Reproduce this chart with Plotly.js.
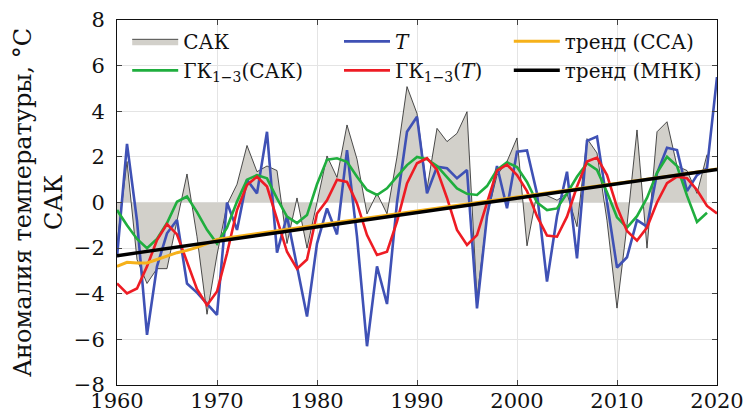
<!DOCTYPE html>
<html>
<head>
<meta charset="utf-8">
<script src="https://cdn.plot.ly/plotly-3.0.1.min.js"></script>
<style>html,body{margin:0;padding:0;background:#fff;}#chart{width:743px;height:416px;}</style>
</head>
<body>
<div id="chart"></div>
<script>
// Years
const yearsT = [1960,1961,1962,1963,1964,1965,1966,1967,1968,1969,1970,1971,1972,1973,1974,1975,1976,1977,1978,1979,1980,1981,1982,1983,1984,1985,1986,1987,1988,1989,1990,1991,1992,1993,1994,1995,1996,1997,1998,1999,2000,2001,2002,2003,2004,2005,2006,2007,2008,2009,2010,2011,2012,2013,2014,2015,2016,2017,2018,2019,2020];
const yearsSAK = yearsT.slice(0, 60);

// Temperature anomaly T
const tempT = [-2.4,2.57,-0.8,-5.8,-2.8,-1.35,-0.77,-3.55,-3.95,-4.45,-4.93,0.0,-1.2,1.0,0.4,3.1,-2.2,-0.6,-2.8,-5.0,-1.8,-0.26,-1.4,2.3,-1.5,-6.3,-2.8,-4.45,0.0,3.1,3.76,0.4,1.57,1.5,1.06,1.42,-4.64,-0.6,1.6,-0.25,2.23,2.28,0.4,-3.47,-0.6,1.35,-2.45,2.7,2.89,0.1,-2.85,-2.4,-0.77,-1.06,1.28,2.4,2.3,0.5,1.2,1.5,5.5];

// САК series
const sak = [-1.8,1.8,-2.5,-3.55,-2.9,-2.9,-0.8,1.25,-1.5,-4.9,-2.3,-0.1,0.8,2.5,1.35,1.6,1.4,-1.8,0.2,-2.0,0.0,2.04,1.1,3.4,1.9,-0.5,0.4,-0.5,2.0,5.08,3.9,0.6,3.25,2.67,3.03,3.98,-4.2,-0.6,1.2,1.8,2.83,-1.9,0.4,0.3,0.1,0.4,-1.06,2.8,2.17,-0.8,-4.63,-1.0,3.18,-2.0,3.1,3.54,1.6,1.4,0.4,2.1];

// ГК1-3(САК)
const gkSAK = [-0.33,-1.0,-1.6,-2.0,-1.6,-0.9,0.03,0.26,-0.42,-1.2,-1.8,-1.1,0.04,1.0,1.2,1.06,0.18,-0.62,-0.9,-0.55,0.8,1.88,1.94,1.78,1.13,0.55,0.33,0.62,1.13,1.64,2.0,1.9,1.6,1.1,0.62,0.38,0.33,0.72,1.43,1.76,1.55,0.9,0.0,-0.33,-0.26,0.4,1.13,1.72,1.43,0.45,-0.65,-1.1,-0.6,0.2,1.3,2.0,1.6,0.3,-0.85,-0.45];

// ГК1-3(T)
const gkT = [-3.55,-3.99,-3.77,-2.8,-1.65,-0.95,-1.4,-2.6,-3.8,-4.5,-3.9,-2.23,-0.33,0.77,1.13,0.7,-0.77,-2.16,-2.9,-2.5,-0.48,0.1,1.0,0.9,-0.04,-1.43,-2.3,-2.16,-0.84,0.84,1.72,1.94,1.43,0.2,-1.2,-1.86,-1.43,0.0,1.4,1.66,1.2,0.5,-0.6,-1.45,-1.5,-0.62,0.7,1.8,1.97,1.2,-0.2,-1.25,-1.67,-1.1,0.0,0.85,1.13,1.06,0.55,-0.15,-0.48];

// тренд (ССА)
const ssaYears = [1960,1961,1962,1963,1964,1965,1966,1967,1968,1969,1970,1975,1980,1985,1990,1995,2000,2005,2010,2015,2020];
const ssaTrend = [-2.8,-2.62,-2.65,-2.65,-2.5,-2.35,-2.2,-2.1,-1.97,-1.8,-1.62,-1.3,-0.98,-0.68,-0.37,-0.06,0.24,0.53,0.83,1.14,1.47];

// тренд (МНК)
const mnkYears = [1960, 2020];
const mnkTrend = [-2.33, 1.45];

const xTicks = [1960,1970,1980,1990,2000,2010,2020];

const FONT = 'DejaVu Serif';

const traces = [
  {x: yearsSAK, y: sak, name: 'САК', type: 'scatter', mode: 'lines', fill: 'tozeroy',
   fillcolor: '#d2d0ca', line: {color: '#222', width: 0.8}, legend: 'legend'},
  {x: yearsT, y: tempT, name: '<i>T</i>', type: 'scatter', mode: 'lines',
   line: {color: '#3f51b5', width: 2.6}, legend: 'legend2'},
  {x: yearsSAK, y: gkSAK, name: 'ГК<sub>1−3</sub>(САК)', type: 'scatter', mode: 'lines',
   line: {color: '#1fae3e', width: 2.6}, legend: 'legend'},
  {x: yearsT, y: gkT, name: 'ГК<sub>1−3</sub>(<i>T</i>)', type: 'scatter', mode: 'lines',
   line: {color: '#ee1c24', width: 2.6}, legend: 'legend2'},
  {x: ssaYears, y: ssaTrend, name: 'тренд (ССА)', type: 'scatter', mode: 'lines',
   line: {color: '#f6b11a', width: 3}, legend: 'legend3'},
  {x: mnkYears, y: mnkTrend, name: 'тренд (МНК)', type: 'scatter', mode: 'lines',
   line: {color: '#000', width: 3.5}, legend: 'legend3'}
];

const legBase = {yanchor: 'top', xanchor: 'left', y: 0.995, bgcolor: 'rgba(0,0,0,0)',
  font: {family: FONT, size: 20, color: '#111'}, tracegroupgap: 0, orientation: 'v', itemwidth: 46};

const layout = {
  width: 743, height: 416,
  margin: {l: 117, r: 26, t: 20, b: 31},
  paper_bgcolor: '#fff', plot_bgcolor: '#fff',
  font: {family: FONT, color: '#111'},
  showlegend: true,
  xaxis: {range: [1960, 2020], tickvals: xTicks, ticks: 'inside', ticklen: 5,
    mirror: 'ticks', showline: true, linecolor: '#111', linewidth: 1,
    showgrid: true, gridcolor: '#e4e4e4', zeroline: false, ticklabeloverflow: 'allow',
    ticklabelstandoff: -3,
    tickfont: {family: FONT, size: 21, color: '#111'}, automargin: false},
  yaxis: {range: [-8, 8], dtick: 2, tick0: 0, ticks: 'inside', ticklen: 5,
    mirror: 'ticks', showline: true, linecolor: '#111', linewidth: 1,
    showgrid: true, gridcolor: '#e4e4e4', zeroline: false, ticklabelstandoff: 7,
    tickfont: {family: FONT, size: 21, color: '#111'}, automargin: false,
    title: {text: 'Аномалия температуры, °С<br>САК', font: {family: FONT, size: 24, color: '#111'}, standoff: 4}},
  legend: Object.assign({}, legBase, {x: 0.017}),
  legend2: Object.assign({}, legBase, {x: 0.37}),
  legend3: Object.assign({}, legBase, {x: 0.653})
};

Plotly.newPlot('chart', traces, layout, {displayModeBar: false, staticPlot: true});
</script>
</body>
</html>
